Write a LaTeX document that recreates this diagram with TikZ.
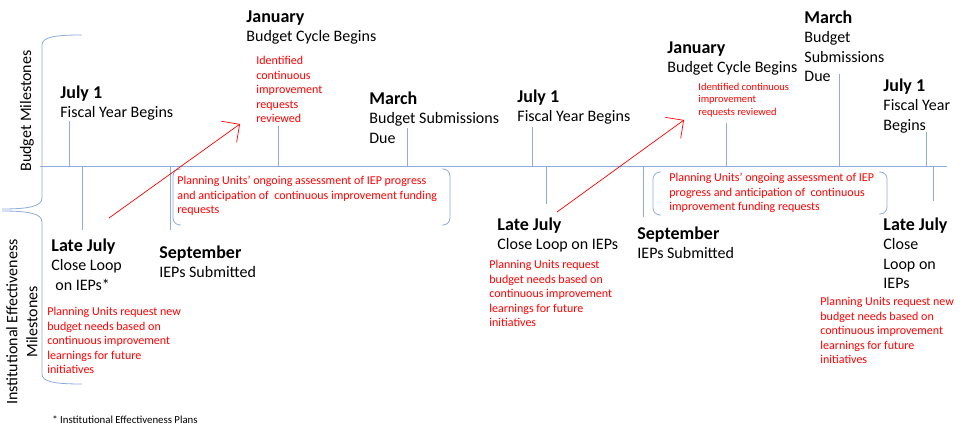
\documentclass[tikz,border=0pt]{standalone}
\usepackage{fontspec}
\setmainfont{Carlito}
\usetikzlibrary{arrows.meta}
\definecolor{tlblue}{HTML}{8FAADC}
\definecolor{iered}{HTML}{FF0000}
\newcommand{\mhead}[1]{{\bfseries\fontsize{18}{19.5}\selectfont #1}}

\begin{document}
\begin{tikzpicture}[x=1pt, y=-1pt, line width=0.8pt,
  milestone/.style={anchor=north west, inner sep=0pt, align=left, font=\fontsize{16}{19.5}\selectfont},
  rednote/.style={anchor=north west, inner sep=0pt, align=left, text=iered, font=\fontsize{12}{14.5}\selectfont},
  smallnote/.style={rednote, font=\fontsize{10.5}{12.3}\selectfont},
  tline/.style={tlblue, line width=0.8pt},
  redarrow/.style={iered, line width=0.7pt, -{Straight Barb[length=13pt, width=26pt]}}]

\useasboundingbox (0,0) rectangle (960,430);

% Side labels and braces
\node[rotate=90, font=\fontsize{16}{19.5}\selectfont] (budlab) at (27,111) {Budget Milestones};
\node[rotate=90, align=center, font=\fontsize{16}{20}\selectfont] (ielab) at (22,322) {Institutional Effectiveness\\Milestones};
\draw[tline] (82,35) .. controls (55,35) and (42,37) .. (42,45) -- (42,198)
  .. controls (42,206) and (30,209) .. (2,209);
\draw[tline] (2,211) .. controls (30,211) and (42,214) .. (42,222) -- (42,374)
  .. controls (42,382) and (55,384) .. (82,384);

% Timeline
\draw[tline] (40,166) -- (947,166);
\foreach \x/\y in {69/121, 278/126, 407/128, 532/127, 726/123, 839/74, 926/132} {
  \draw[tline] (\x,166) -- (\x,\y);
}
\foreach \x/\y in {82/230, 170/230, 546/204, 643/217, 933/201} {
  \draw[tline] (\x,166) -- (\x,\y);
}

% =========== BUDGET MILESTONES (above) ===========
\node[milestone] (jula) at (60,85) {\mhead{July 1}\\Fiscal Year Begins};
\node[milestone] (jana) at (246,10) {\mhead{January}\\Budget Cycle Begins};
\node[rednote] (revieweda) at (256,56) {Identified\\continuous\\improvement\\requests\\reviewed};
\node[milestone] (mara) at (369,91) {\mhead{March}\\Budget Submissions\\Due};
\node[milestone] (julb) at (517,89) {\mhead{July 1}\\Fiscal Year Begins};
\node[milestone] (janb) at (667,41) {\mhead{January}\\Budget Cycle Begins};
\node[smallnote] (reviewedb) at (698,83) {Identified continuous\\improvement\\requests reviewed};
\node[milestone] (marb) at (804,10) {\mhead{March}\\Budget\\Submissions\\Due};
\node[milestone] (julc) at (883,78) {\mhead{July 1}\\Fiscal Year\\Begins};

% Ongoing assessment brackets
\draw[tline, rounded corners=7pt] (181,169) -- (173,169) -- (173,225) -- (181,225);
\draw[tline, rounded corners=7pt] (442,169) -- (450,169) -- (450,225) -- (442,225);
\node[rednote] (assessa) at (177,176) {Planning Units’ ongoing assessment of IEP progress\\and anticipation of~ continuous improvement funding\\requests};
\draw[tline, rounded corners=7pt] (661,172) -- (653,172) -- (653,215) -- (661,215);
\draw[tline, rounded corners=7pt] (879,172) -- (887,172) -- (887,214) -- (879,214);
\node[rednote] (assessb) at (669,173) {Planning Units’ ongoing assessment of IEP\\progress and anticipation of~ continuous\\improvement funding requests};

% =========== INSTITUTIONAL EFFECTIVENESS MILESTONES (below) ===========
\node[milestone] (latea) at (51,238) {\mhead{Late July}\\Close Loop\\\hspace*{4pt}on IEPs*};
\node[rednote] (requesta) at (47,307) {Planning Units request new\\budget needs based on\\continuous improvement\\learnings for future\\initiatives};
\node[milestone] (septa) at (159,245) {\mhead{September}\\IEPs Submitted};
\node[milestone] (lateb) at (497,217) {\mhead{Late July}\\Close Loop on IEPs};
\node[rednote] (requestb) at (489,260) {Planning Units request\\budget needs based on\\continuous improvement\\learnings for future\\initiatives};
\node[milestone] (septb) at (637,226) {\mhead{September}\\IEPs Submitted};
\node[milestone] (latec) at (883,217) {\mhead{Late July}\\Close\\Loop on\\IEPs};
\node[rednote] (requestc) at (820,297) {Planning Units request new\\budget needs based on\\continuous improvement\\learnings for future\\initiatives};

% Feedback arrows
\coordinate (loopa) at (109,218);
\coordinate (reviewa) at (240,124);
\draw[redarrow] (loopa) -- (reviewa);
\coordinate (loopb) at (557,212);
\coordinate (reviewb) at (684,120);
\draw[redarrow] (loopb) -- (reviewb);

% Footnote
\node[anchor=west, inner sep=0pt, font=\fontsize{10.8}{13}\selectfont] (footnote) at (52,420) {* Institutional Effectiveness Plans};

\end{tikzpicture}
\end{document}
